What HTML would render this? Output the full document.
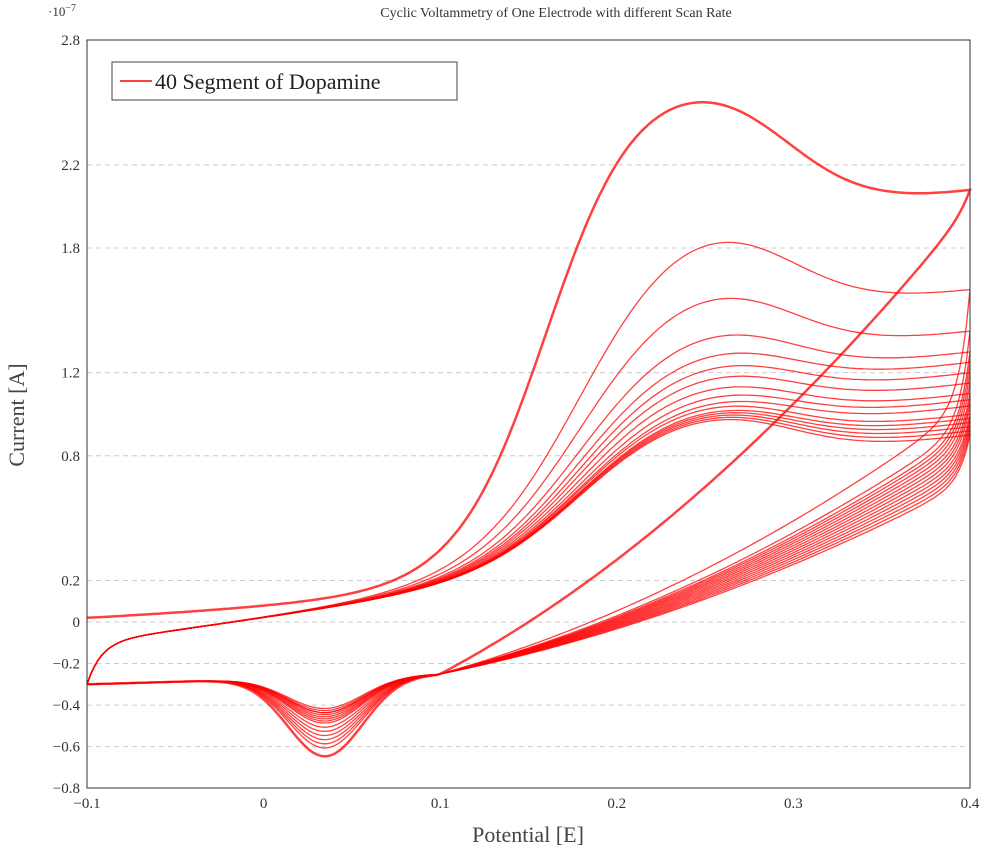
<!DOCTYPE html>
<html><head><meta charset="utf-8"><style>
body{margin:0;background:#fff;}
svg{display:block;font-family:"Liberation Serif",serif;}
</style></head><body>
<svg id="chart" width="984" height="853">
<text x="48" y="16" font-size="13" fill="#333">·10<tspan dy="-5" font-size="10">−7</tspan></text>
<text x="556" y="17" font-size="14" text-anchor="middle" fill="#333">Cyclic Voltammetry of One Electrode with different Scan Rate</text>
<g id="grid"></g>
<g id="curves"></g>
<rect x="87" y="40" width="883" height="748" fill="none" stroke="#333" stroke-width="1"/>
<g id="ticks"></g>
<g>
<rect x="112" y="62" width="345" height="38" fill="#fff" stroke="#444"/>
<line x1="120" y1="81" x2="152" y2="81" stroke="#f00" stroke-width="1.5"/>
<text x="155" y="89" font-size="22" fill="#222">40 Segment of Dopamine</text>
</g>
<text x="528" y="842" font-size="22" text-anchor="middle" fill="#444">Potential [E]</text>
<text transform="translate(24,415) rotate(-90)" font-size="22" text-anchor="middle" fill="#444">Current [A]</text>
</svg>
<script>
const yTicks=[2.8,2.2,1.8,1.2,0.8,0.2,0,-0.2,-0.4,-0.6,-0.8];
const xTicks=[-0.1,0,0.1,0.2,0.3,0.4];
const peakValues=[2.5,1.82,1.55,1.37,1.28,1.22,1.17,1.12,1.08,1.05,1.03,1.01,1.0,0.99,0.98,0.97];
const endValues=[2.08,1.6,1.4,1.3,1.25,1.2,1.15,1.1,1.07,1.04,1.0,0.98,0.96,0.94,0.92,0.9];
const reverseEnd=[2.0,1.05,0.95,0.92,0.9,0.88,0.86,0.84,0.82,0.8,0.78,0.76,0.74,0.72,0.7,0.68];
const dipValues=[-0.66,-0.62,-0.6,-0.58,-0.56,-0.54,-0.52,-0.5,-0.49,-0.48,-0.47,-0.46,-0.45,-0.45,-0.44,-0.43];
const startValues=[0.02,-0.3,-0.3,-0.3,-0.3,-0.3,-0.3,-0.3,-0.3,-0.3,-0.3,-0.3,-0.3,-0.3,-0.3,-0.3];
const NS="http://www.w3.org/2000/svg";
const X=v=>87+(v+0.1)*1766, Y=v=>622-v*207.8;
const grid=document.getElementById('grid'),ticks=document.getElementById('ticks'),cg=document.getElementById('curves');
yTicks.forEach(t=>{
 if(t!==2.8&&t!==-0.8){const l=document.createElementNS(NS,'line');
 l.setAttribute('x1',87);l.setAttribute('x2',970);l.setAttribute('y1',Y(t));l.setAttribute('y2',Y(t));
 l.setAttribute('stroke','#ccc');l.setAttribute('stroke-dasharray','5,4');
 
 
 grid.appendChild(l);}
 const tx=document.createElementNS(NS,'text');tx.setAttribute('x',80);tx.setAttribute('y',Y(t)+5);
 tx.setAttribute('text-anchor','end');tx.setAttribute('font-size','15');tx.setAttribute('fill','#333');
 tx.textContent=(t<0?'−':'')+Math.abs(t);
 
 
 ticks.appendChild(tx);
});
xTicks.forEach(t=>{
 const tx=document.createElementNS(NS,'text');tx.setAttribute('x',X(t));tx.setAttribute('y',808);
 tx.setAttribute('text-anchor','middle');tx.setAttribute('font-size','15');tx.setAttribute('fill','#333');
 tx.textContent=(t<0?'−':'')+Math.abs(t);
 
 
 ticks.appendChild(tx);
});
const S=(x,c,w)=>1/(1+Math.exp(-(x-c)/w));
peakValues.forEach((pk,i)=>{
 const s=startValues[i];
 const b=x=>s<-0.1?(-0.3+0.2*(1-Math.exp(-(x+0.1)/0.008))+1.2*(x+0.1)):(s+0.45*(x+0.1)+Math.pow(Math.max(0,x+0.1),2));
 const xh=i===0?0.16:0.18, w=i===0?0.025:0.03, xp=i===0?0.245:0.255, dc=0.295;
 const s1p=S(xp,xh,w), s2p=S(xp,dc,0.025), s1e=S(0.4,xh,w), s2e=S(0.4,dc,0.025);
 const r1=pk-b(xp), r2=endValues[i]-b(0.4);
 const det=-s1p*s2e+s2p*s1e;
 const A=(-r1*s2e+s2p*r2)/det, D=(s1p*r2-s1e*r1)/det;
 const f=x=>b(x)+A*S(x,xh,w)-D*S(x,dc,0.025);
 let d='';
 for(let k=0;k<=250;k++){const x=-0.1+0.5*k/250;d+=(k?'L':'M')+X(x).toFixed(1)+' '+Y(f(x)).toFixed(1);}
 const re=reverseEnd[i], fe=f(0.4);
 const r=x=>{
  if(x>=0.1){const u=(x-0.1)/0.3;let v=-0.25+(re+0.25)*(i===0?u*(0.6+0.4*u):u*u*0.45+u*0.55);
   v+=(fe-re)*Math.exp(-(0.4-x)/0.006);return v;}
  const g=Math.exp(-Math.pow((x-0.035)/0.03,2));
  return -0.3+0.05*(x+0.1)/0.2+(dipValues[i]+0.28)*g;
 };
 for(let k=0;k<=250;k++){const x=0.4-0.5*k/250;d+='L'+X(x).toFixed(1)+' '+Y(r(x)).toFixed(1);}
 const p=document.createElementNS(NS,'path');p.setAttribute('d',d);p.setAttribute('fill','none');
 p.setAttribute('stroke','#f00');p.setAttribute('stroke-opacity','0.75');p.setAttribute('stroke-width',i===0?'2.5':'1.3');
 
 
 cg.appendChild(p);
});
</script>
</body></html>
